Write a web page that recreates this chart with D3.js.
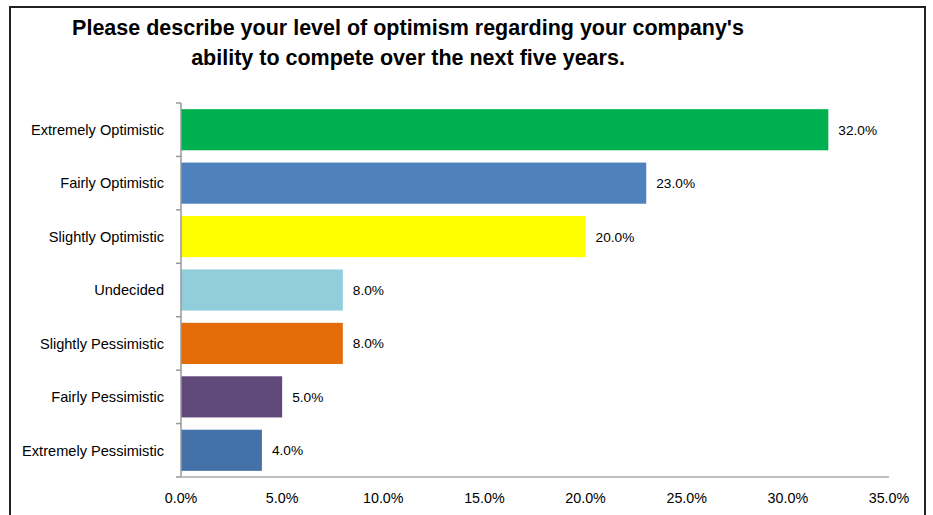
<!DOCTYPE html>
<html>
<head>
<meta charset="utf-8">
<script src="https://cdn.jsdelivr.net/npm/d3@7"></script>
<style>
  html, body { margin: 0; padding: 0; background: #fff; }
  svg { display: block; }
  text { font-family: "Liberation Sans", Arial, sans-serif; fill: #000; }
</style>
</head>
<body>
<svg id="chart" width="933" height="515"></svg>
<script>
// Survey responses: optimism about competing over the next five years
const categories = [
  "Extremely Optimistic",
  "Fairly Optimistic",
  "Slightly Optimistic",
  "Undecided",
  "Slightly Pessimistic",
  "Fairly Pessimistic",
  "Extremely Pessimistic"
];
const values = [32.0, 23.0, 20.0, 8.0, 8.0, 5.0, 4.0];
const barColors = ["#00B050", "#4F81BD", "#FFFF00", "#92CDDC", "#E36C09", "#604A7B", "#4472A8"];
const xTicks = [0, 5, 10, 15, 20, 25, 30, 35];
const titleLines = [
  "Please describe your level of optimism regarding your company's",
  "ability to compete over the next five years."
];

const svg = d3.select("#chart");

// Outer frame (open at the bottom)
svg.append("path")
  .attr("d", "M10,515 V7 H925 V515")
  .attr("fill", "none")
  .attr("stroke", "#222")
  .attr("stroke-width", 2);

// Title
svg.append("g").selectAll("text")
  .data(titleLines)
  .join("text")
  .attr("x", 408)
  .attr("y", (d, i) => 35 + i * 30)
  .attr("text-anchor", "middle")
  .style("font-weight", "bold")
  .style("font-size", "21.5px")
  .text(d => d);

const plotL = 181, plotR = 889, plotT = 103, plotB = 477;

const x = d3.scaleLinear().domain([0, 35]).range([plotL, plotR]);
const y = d3.scaleBand().domain(categories).range([plotT, plotB]).paddingInner(0.23).paddingOuter(0.115);

// Bars
svg.append("g").selectAll("rect")
  .data(values)
  .join("rect")
  .attr("x", x(0))
  .attr("y", (d, i) => y(categories[i]))
  .attr("width", d => x(d) - x(0))
  .attr("height", y.bandwidth())
  .attr("fill", (d, i) => barColors[i]);

// Value labels
svg.append("g").selectAll("text")
  .data(values)
  .join("text")
  .attr("x", d => x(d) + 10)
  .attr("y", (d, i) => y(categories[i]) + y.bandwidth() / 2)
  .attr("dy", "0.36em")
  .style("font-size", "13.7px")
  .text(d => d.toFixed(1) + "%");

// Category axis
const step = (plotB - plotT) / categories.length;
const yAxis = svg.append("g");
yAxis.append("line")
  .attr("x1", plotL).attr("x2", plotL)
  .attr("y1", plotT).attr("y2", plotB)
  .attr("stroke", "#999").attr("stroke-width", 1.5);
yAxis.selectAll("line.tick")
  .data(d3.range(categories.length + 1))
  .join("line")
  .attr("class", "tick")
  .attr("x1", plotL - 5).attr("x2", plotL)
  .attr("y1", i => plotT + i * step).attr("y2", i => plotT + i * step)
  .attr("stroke", "#999").attr("stroke-width", 1.5);
yAxis.selectAll("text")
  .data(categories)
  .join("text")
  .attr("x", 164)
  .attr("y", d => y(d) + y.bandwidth() / 2)
  .attr("dy", "0.36em")
  .attr("text-anchor", "end")
  .style("font-size", "14.6px")
  .text(d => d);

// Value axis
const xAxis = svg.append("g");
xAxis.append("line")
  .attr("x1", plotL).attr("x2", plotR)
  .attr("y1", plotB).attr("y2", plotB)
  .attr("stroke", "#aaa").attr("stroke-width", 1.5);
xAxis.selectAll("text")
  .data(xTicks)
  .join("text")
  .attr("x", d => x(d))
  .attr("y", 503)
  .attr("text-anchor", "middle")
  .style("font-size", "14.3px")
  .text(d => d.toFixed(1) + "%");
</script>
</body>
</html>
